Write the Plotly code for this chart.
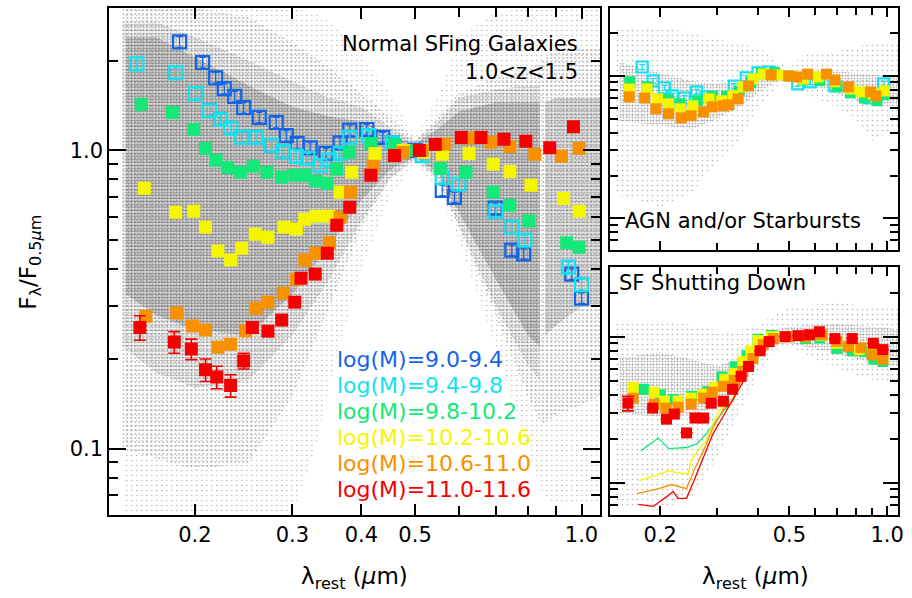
import numpy as np
import plotly.graph_objects as go

# ------------------------------------------------------------------
# Stacked rest-frame SEDs, normalised at 0.5 micron, 1.0 < z < 1.5
# ------------------------------------------------------------------
mass_bins = ["9.0-9.4", "9.4-9.8", "9.8-10.2", "10.2-10.6", "10.6-11.0", "11.0-11.6"]
bin_colors = ["#1464e6", "#14e1f0", "#14e878", "#f5f500", "#f79100", "#f50000"]

# --- Normal star-forming galaxies (main panel) ---
sf_lam_90 = [0.1876, 0.2065, 0.218, 0.226, 0.236, 0.245, 0.2614, 0.2805, 0.2925, 0.306, 0.323, 0.345,
             0.366, 0.381, 0.409, 0.437, 0.455, 0.5, 0.56, 0.589, 0.698, 0.748, 0.786, 0.96, 1.0]
sf_f_90 = [2.31, 1.97, 1.75, 1.61, 1.516, 1.39, 1.29, 1.24, 1.12, 1.055, 1.02, 0.977,
           1.06, 1.17, 1.175, 1.105, 1.06, 1.0, 0.735, 0.696, 0.64, 0.463, 0.45, 0.385, 0.32]

sf_lam_94 = [0.157, 0.1846, 0.2005, 0.2126, 0.2225, 0.232, 0.243, 0.258, 0.2752, 0.2888, 0.305, 0.32,
             0.3367, 0.35, 0.366, 0.381, 0.412, 0.455, 0.515, 0.56, 0.60, 0.70, 0.748, 0.79, 0.947, 1.0]
sf_f_94 = [1.95, 1.82, 1.55, 1.36, 1.27, 1.185, 1.105, 1.105, 1.04, 0.99, 0.955, 0.94,
           0.89, 0.93, 0.977, 1.105, 1.12, 1.06, 0.96, 0.81, 0.77, 0.625, 0.553, 0.50, 0.406, 0.355]

sf_lam_98 = [0.16, 0.182, 0.199, 0.209, 0.2185, 0.229, 0.2415, 0.255, 0.270, 0.287, 0.303, 0.316, 0.331,
             0.347, 0.361, 0.38, 0.416, 0.459, 0.5, 0.555, 0.618, 0.692, 0.742, 0.803, 0.94, 0.99]
sf_f_98 = [1.425, 1.34, 1.175, 1.015, 0.926, 0.877, 0.844, 0.884, 0.844, 0.812, 0.825, 0.825, 0.788,
           0.776, 0.864, 0.985, 1.055, 1.047, 1.0, 0.87, 0.845, 0.724, 0.655, 0.58, 0.49, 0.474]

sf_lam_102 = [0.162, 0.1846, 0.199, 0.209, 0.22, 0.232, 0.243, 0.257, 0.271, 0.29, 0.305, 0.316, 0.332,
              0.35, 0.366, 0.384, 0.423, 0.476, 0.518, 0.56, 0.626, 0.692, 0.742, 0.81, 0.928, 0.99]
sf_f_102 = [0.746, 0.62, 0.625, 0.553, 0.46, 0.429, 0.47, 0.524, 0.512, 0.553, 0.545, 0.588, 0.602,
            0.602, 0.724, 0.845, 0.977, 1.0, 0.985, 0.97, 0.977, 0.898, 0.85, 0.764, 0.69, 0.625]

sf_lam_106 = [0.163, 0.1855, 0.198, 0.209, 0.22, 0.232, 0.247, 0.258, 0.271, 0.289, 0.305, 0.316, 0.331,
              0.35, 0.366, 0.382, 0.42, 0.476, 0.515, 0.565, 0.626, 0.686, 0.742, 0.823, 0.92, 0.99]
sf_f_106 = [0.278, 0.285, 0.258, 0.25, 0.219, 0.224, 0.248, 0.296, 0.31, 0.332, 0.37, 0.429, 0.452,
            0.49, 0.597, 0.724, 0.884, 0.985, 1.0, 1.05, 1.1, 1.065, 1.03, 0.97, 0.955, 1.015]

sf_lam_110 = [0.159, 0.1835, 0.197, 0.209, 0.219, 0.232, 0.245, 0.254, 0.271, 0.287, 0.303, 0.311, 0.33,
              0.347, 0.361, 0.381, 0.416, 0.459, 0.509, 0.544, 0.606, 0.658, 0.724, 0.793, 0.876, 0.967]
sf_f_110 = [0.255, 0.228, 0.216, 0.184, 0.174, 0.163, 0.197, 0.255, 0.248, 0.27, 0.31, 0.373, 0.385,
            0.452, 0.561, 0.645, 0.825, 0.962, 1.0, 1.047, 1.105, 1.105, 1.09, 1.072, 1.02, 1.2]
sf_err_110 = [0.024, 0.019, 0.017, 0.016, 0.015, 0.014, 0.012, 0.01, 0.01, 0, 0, 0, 0,
              0, 0, 0, 0, 0, 0, 0, 0, 0, 0, 0, 0, 0]

# --- AGN and/or starbursts (upper right panel) ---
agn_lam_94 = [0.176, 0.19, 0.206, 0.2176, 0.237, 0.259, 0.277, 0.338, 0.368, 0.40, 0.433, 0.53, 0.58, 0.69, 0.88, 0.975]
agn_f_94 = [1.156, 0.923, 0.824, 0.725, 0.70, 0.773, 0.713, 0.85, 0.968, 1.05, 1.066, 0.88, 0.908, 0.85, 0.70, 0.88]

agn_lam_98 = [0.161, 0.182, 0.212, 0.23, 0.26, 0.29, 0.32, 0.35, 0.38, 0.41, 0.45, 0.5, 0.55, 0.62, 0.7, 0.77, 0.85, 0.93, 0.98]
agn_f_98 = [0.91, 0.84, 0.68, 0.64, 0.67, 0.72, 0.72, 0.78, 0.9, 1.04, 1.06, 1.0, 0.94, 0.93, 0.84, 0.76, 0.7, 0.67, 0.74]

agn_lam_102 = [0.1605, 0.182, 0.196, 0.212, 0.23, 0.252, 0.283, 0.309, 0.335, 0.359, 0.386, 0.415, 0.463,
               0.506, 0.55, 0.614, 0.69, 0.77, 0.83, 0.906, 0.98]
agn_f_102 = [0.81, 0.81, 0.69, 0.637, 0.588, 0.617, 0.69, 0.669, 0.725, 0.838, 0.953, 1.03, 1.016,
             1.0, 0.953, 0.984, 0.91, 0.81, 0.773, 0.748, 0.785]

agn_lam_106 = [0.1605, 0.179, 0.194, 0.212, 0.232, 0.249, 0.272, 0.289, 0.313, 0.325, 0.347, 0.374, 0.439,
               0.497, 0.526, 0.569, 0.65, 0.69, 0.76, 0.888, 0.924]
agn_f_106 = [0.713, 0.70, 0.588, 0.542, 0.508, 0.525, 0.56, 0.607, 0.617, 0.627, 0.69, 0.85, 1.016,
             1.0, 0.984, 1.03, 1.03, 0.938, 0.838, 0.773, 0.725]

# --- SF shutting down (lower right panel) ---
qs_lam_98 = [0.178, 0.2, 0.22, 0.25, 0.28, 0.31, 0.34, 0.37, 0.40, 0.44, 0.5, 0.56, 0.62, 0.7, 0.78, 0.85, 0.91, 0.97]
qs_f_98 = [0.436, 0.40, 0.37, 0.39, 0.42, 0.53, 0.62, 0.74, 0.96, 1.02, 1.0, 0.97, 0.98, 0.83, 0.8, 0.79, 0.70, 0.676]

qs_lam_102 = [0.165, 0.1915, 0.206, 0.227, 0.249, 0.272, 0.294, 0.316, 0.338, 0.359, 0.38, 0.40, 0.44,
              0.5, 0.56, 0.63, 0.7, 0.82, 0.9, 0.97]
qs_f_102 = [0.45, 0.416, 0.361, 0.361, 0.379, 0.403, 0.45, 0.51, 0.56, 0.676, 0.80, 0.94, 1.0,
            1.0, 1.0, 1.02, 0.9, 0.815, 0.8, 0.74]

qs_lam_106 = [0.165, 0.1915, 0.208, 0.227, 0.249, 0.272, 0.289, 0.313, 0.338, 0.359, 0.386, 0.415, 0.446,
              0.5, 0.56, 0.63, 0.7, 0.76, 0.83, 0.9, 0.97]
qs_f_106 = [0.379, 0.345, 0.324, 0.329, 0.345, 0.379, 0.416, 0.457, 0.502, 0.578, 0.708, 0.882, 0.97,
            1.0, 1.0, 1.03, 0.93, 0.855, 0.84, 0.75, 0.70]

qs_lam_110 = [0.159, 0.1895, 0.209, 0.221, 0.241, 0.256, 0.272, 0.287, 0.313, 0.334, 0.355, 0.374, 0.406,
              0.433, 0.485, 0.532, 0.576, 0.618, 0.69, 0.78, 0.906, 0.97]
qs_f_110 = [0.35, 0.324, 0.272, 0.295, 0.219, 0.277, 0.277, 0.35, 0.361, 0.436, 0.535, 0.625, 0.80,
            0.925, 1.0, 1.016, 1.03, 1.08, 0.97, 0.97, 0.9, 0.815]
qs_err_110 = [0.04] + [0] * 21

# normal-SF reference curves drawn in the lower right panel
ref_lam_98 = [0.1744, 0.197, 0.2125, 0.241, 0.259, 0.277, 0.297, 0.313, 0.329, 0.386]
ref_f_98 = [0.165, 0.202, 0.171, 0.174, 0.184, 0.216, 0.264, 0.309, 0.35, 0.79]
ref_lam_102 = [0.1722, 0.194, 0.2125, 0.2245, 0.2437, 0.249, 0.261, 0.277, 0.2906, 0.3068, 0.329, 0.386]
ref_f_102 = [0.103, 0.112, 0.121, 0.117, 0.115, 0.141, 0.165, 0.193, 0.252, 0.324, 0.35, 0.79]
ref_lam_106 = [0.1697, 0.198, 0.2167, 0.241, 0.254, 0.2715, 0.2906, 0.313, 0.334, 0.386]
ref_f_106 = [0.0842, 0.091, 0.097, 0.091, 0.121, 0.165, 0.237, 0.319, 0.361, 0.79]
ref_lam_110 = [0.1713, 0.1899, 0.2082, 0.219, 0.227, 0.241, 0.254, 0.2715, 0.2906, 0.313, 0.336, 0.368]
ref_f_110 = [0.0709, 0.0687, 0.0792, 0.0869, 0.078, 0.078, 0.103, 0.148, 0.216, 0.286, 0.379, 0.534]

# --- extent of the individual galaxy photometry (grey points): sparse, medium, halo, dense ---
sf_faint_lam = [0.148, 0.2, 0.3, 0.33, 0.36, 0.4, 0.45, 0.5, 0.55, 0.6, 0.7, 0.8, 0.85, 0.9, 1.0, 1.08]
sf_faint_hi = [3.0, 3.0, 3.0, 2.9, 2.6, 2.1, 1.55, 1.12, 1.5, 2.4, 2.9, 3.0, 3.0, 3.0, 3.0, 3.0]
sf_faint_lo = [0.06, 0.06, 0.06, 0.1, 0.2, 0.4, 0.7, 0.9, 0.75, 0.5, 0.22, 0.1, 0.07, 0.065, 0.065, 0.065]
sf_mid_lam = [0.148, 0.2, 0.25, 0.3, 0.35, 0.4, 0.45, 0.5, 0.55, 0.6, 0.7, 0.8, 0.85, 0.9, 1.0, 1.08]
sf_mid_hi = [3.0, 3.0, 2.8, 2.3, 1.9, 1.55, 1.3, 1.08, 1.3, 1.55, 1.75, 1.85, 2.0, 2.2, 2.2, 2.2]
sf_mid_lo = [0.1, 0.085, 0.09, 0.15, 0.3, 0.55, 0.8, 0.93, 0.8, 0.55, 0.28, 0.15, 0.12, 0.13, 0.14, 0.15]
sf_halo_lam = [0.148, 0.17, 0.2, 0.25, 0.3, 0.35, 0.4, 0.45, 0.5, 0.55, 0.6, 0.7, 0.8, 0.84]
sf_halo_hi = [2.7, 2.7, 2.4, 2.0, 1.7, 1.5, 1.4, 1.2, 1.07, 1.25, 1.5, 1.6, 1.65, 1.65]
sf_halo_lo = [0.22, 0.18, 0.16, 0.17, 0.24, 0.37, 0.58, 0.8, 0.94, 0.8, 0.56, 0.3, 0.19, 0.17]
sf_core_lam = [0.15, 0.17, 0.2, 0.25, 0.3, 0.35, 0.4, 0.45, 0.5, 0.55, 0.6, 0.7, 0.8, 0.84]
sf_core_hi = [2.4, 2.4, 2.05, 1.65, 1.4, 1.3, 1.25, 1.13, 1.05, 1.18, 1.35, 1.45, 1.45, 1.45]
sf_core_lo = [0.33, 0.28, 0.25, 0.24, 0.33, 0.48, 0.68, 0.86, 0.95, 0.84, 0.62, 0.37, 0.24, 0.22]
sf_core_red_lam = [0.86, 0.9, 1.0, 1.08]
sf_core_red_hi = [1.45, 1.5, 1.5, 1.5]
sf_core_red_lo = [0.24, 0.26, 0.3, 0.3]

agn_faint_lam = [0.145, 0.2, 0.25, 0.3, 0.35, 0.4, 0.45, 0.5, 0.55, 0.6, 0.7, 0.8, 0.9, 1.0, 1.1]
agn_faint_hi = [2.2, 2.2, 2.0, 1.8, 1.7, 1.6, 1.3, 1.15, 1.4, 1.5, 1.5, 1.6, 1.7, 1.7, 1.7]
agn_faint_lo = [0.15, 0.12, 0.15, 0.25, 0.35, 0.6, 0.8, 0.9, 0.75, 0.7, 0.6, 0.5, 0.35, 0.4, 0.45]
agn_core_lam = [0.15, 0.2, 0.25, 0.3, 0.35, 0.4, 0.45, 0.5, 0.55, 0.7, 0.9, 1.1]
agn_core_hi = [1.25, 1.05, 0.92, 0.88, 0.93, 1.08, 1.1, 1.04, 1.1, 1.08, 1.02, 0.98]
agn_core_lo = [0.48, 0.45, 0.42, 0.5, 0.6, 0.76, 0.9, 0.95, 0.9, 0.76, 0.62, 0.62]

qs_faint_lam = [0.145, 0.2, 0.25, 0.3, 0.35, 0.4, 0.45, 0.5, 0.7, 0.9, 1.1]
qs_faint_hi = [1.3, 1.3, 1.2, 1.1, 1.1, 1.2, 1.4, 1.6, 1.7, 1.6, 1.6]
qs_faint_lo = [0.07, 0.065, 0.08, 0.15, 0.3, 0.55, 0.8, 0.85, 0.6, 0.5, 0.5]
qs_core_lam = [0.15, 0.2, 0.25, 0.3, 0.35, 0.4, 0.45, 0.5, 0.7, 0.9, 1.1]
qs_core_hi = [0.72, 0.78, 0.7, 0.63, 0.72, 0.93, 1.1, 1.18, 1.22, 1.18, 1.12]
qs_core_lo = [0.3, 0.28, 0.29, 0.33, 0.46, 0.7, 0.88, 0.9, 0.76, 0.66, 0.62]

# ------------------------------------------------------------------
FONT = "DejaVu Sans"
W, H = 912, 598
LAM_RANGE = [np.log10(0.14), np.log10(1.08)]
F_RANGE = [np.log10(0.06), np.log10(3.0)]
DOT = "#6a6a6a"

fig = go.Figure()


def cloud(lam, hi, lo, xa, ya, size, solidity):
    xs = list(lam) + list(lam[::-1])
    ys = list(hi) + list(lo[::-1])
    fig.add_trace(go.Scatter(
        x=xs, y=ys, xaxis=xa, yaxis=ya, mode="lines", fill="toself",
        line=dict(width=0, color="rgba(0,0,0,0)"), fillcolor="rgba(0,0,0,0)",
        fillpattern=dict(shape=".", size=size, solidity=solidity, fgcolor=DOT,
                         bgcolor="rgba(0,0,0,0)"),
        hoverinfo="skip", showlegend=False))


def points(lam, f, color, xa, ya, open_sym=False, err=None, size=13):
    marker = dict(size=size, color=color,
                  symbol="square-open" if open_sym else "square",
                  line=dict(width=2.2 if open_sym else 0, color=color))
    ebar = None
    if err is not None:
        ebar = dict(type="data", array=err, visible=True, color=color, thickness=1.6, width=6)
    elif open_sym:
        ebar = dict(type="percent", value=4, visible=True, color=color, thickness=1.2, width=3)
    fig.add_trace(go.Scatter(x=lam, y=f, xaxis=xa, yaxis=ya, mode="markers",
                             marker=marker, error_y=ebar, showlegend=False, hoverinfo="skip"))


# grey galaxy photometry
cloud(sf_faint_lam, sf_faint_hi, sf_faint_lo, "x", "y", 5, 0.08)
cloud(sf_mid_lam, sf_mid_hi, sf_mid_lo, "x", "y", 4, 0.2)
cloud(sf_halo_lam, sf_halo_hi, sf_halo_lo, "x", "y", 3, 0.4)
cloud(sf_core_lam, sf_core_hi, sf_core_lo, "x", "y", 3, 0.68)
cloud(sf_core_red_lam, sf_core_red_hi, sf_core_red_lo, "x", "y", 3, 0.6)
cloud(agn_faint_lam, agn_faint_hi, agn_faint_lo, "x2", "y2", 5, 0.09)
cloud(agn_core_lam, agn_core_hi, agn_core_lo, "x2", "y2", 3, 0.35)
cloud(qs_faint_lam, qs_faint_hi, qs_faint_lo, "x3", "y3", 5, 0.09)
cloud(qs_core_lam, qs_core_hi, qs_core_lo, "x3", "y3", 3, 0.35)

# main panel stacks
points(sf_lam_90, sf_f_90, bin_colors[0], "x", "y", open_sym=True)
points(sf_lam_94, sf_f_94, bin_colors[1], "x", "y", open_sym=True)
points(sf_lam_98, sf_f_98, bin_colors[2], "x", "y")
points(sf_lam_102, sf_f_102, bin_colors[3], "x", "y")
points(sf_lam_106, sf_f_106, bin_colors[4], "x", "y")
points(sf_lam_110, sf_f_110, bin_colors[5], "x", "y", err=sf_err_110)

# AGN / starburst stacks
points(agn_lam_94, agn_f_94, bin_colors[1], "x2", "y2", open_sym=True, size=11)
points(agn_lam_98, agn_f_98, bin_colors[2], "x2", "y2", size=11)
points(agn_lam_102, agn_f_102, bin_colors[3], "x2", "y2", size=11)
points(agn_lam_106, agn_f_106, bin_colors[4], "x2", "y2", size=11)

# reference curves + SF shutting-down stacks
for lam, f, c in [(ref_lam_98, ref_f_98, bin_colors[2]), (ref_lam_102, ref_f_102, bin_colors[3]),
                  (ref_lam_106, ref_f_106, bin_colors[4]), (ref_lam_110, ref_f_110, bin_colors[5])]:
    fig.add_trace(go.Scatter(x=lam, y=f, xaxis="x3", yaxis="y3", mode="lines",
                             line=dict(color=c, width=1.3), showlegend=False, hoverinfo="skip"))
points(qs_lam_98, qs_f_98, bin_colors[2], "x3", "y3", size=11)
points(qs_lam_102, qs_f_102, bin_colors[3], "x3", "y3", size=11)
points(qs_lam_106, qs_f_106, bin_colors[4], "x3", "y3", size=11)
points(qs_lam_110, qs_f_110, bin_colors[5], "x3", "y3", err=qs_err_110, size=11)


def px(v):
    return v / W


def py(v):
    return 1 - v / H


def axis(domain, rng, tickvals, minor_vals, major_len, minor_len, anchor, labels=True):
    return dict(
        type="log", domain=domain, range=rng, anchor=anchor,
        showline=True, linecolor="black", linewidth=2, mirror="allticks",
        ticks="inside", ticklen=major_len, tickwidth=1.5, tickcolor="black",
        tickmode="array", tickvals=tickvals, ticktext=[f"{v:.1f}" for v in tickvals],
        showticklabels=labels, tickfont=dict(family=FONT, size=21, color="black"),
        minor=dict(ticks="inside", ticklen=minor_len, tickwidth=1.5, tickcolor="black",
                   tickmode="array", tickvals=minor_vals),
        showgrid=False, zeroline=False,
    )


y_minor = [0.07, 0.08, 0.09, 0.2, 0.3, 0.4, 0.5, 0.6, 0.7, 0.8, 0.9, 2, 3]
right_minor_x = [0.3, 0.4, 0.6, 0.7, 0.8, 0.9]
main_x = axis([px(110), px(604)], LAM_RANGE, [0.2, 0.3, 0.4, 0.5, 1.0], [0.6, 0.7, 0.8, 0.9], 11, 9, "y")
main_y = axis([1 - 515 / H, 1 - 8 / H], F_RANGE, [0.1, 1.0], y_minor, 17, 9, "x")
x2 = axis([px(614), px(904)], LAM_RANGE, [0.2, 0.5, 1.0], right_minor_x, 9, 7, "y2", labels=False)
y2 = axis([1 - 250 / H, 1 - 8 / H], F_RANGE, [0.1, 1.0], y_minor, 15, 8, "x2", labels=False)
x3 = axis([px(614), px(904)], LAM_RANGE, [0.2, 0.5, 1.0], right_minor_x, 9, 7, "y3")
y3 = axis([1 - 515 / H, 1 - 267 / H], F_RANGE, [0.1, 1.0], y_minor, 15, 8, "x3", labels=False)

annotations = [
    dict(text="Normal SFing Galaxies", x=px(584), y=py(44), xanchor="right", font_size=21),
    dict(text="1.0&lt;z&lt;1.5", x=px(584), y=py(72), xanchor="right", font_size=21),
    dict(text="AGN and/or Starbursts", x=px(627), y=py(221), xanchor="left", font_size=21),
    dict(text="SF Shutting Down", x=px(621), y=py(283), xanchor="left", font_size=21),
    dict(text="λ<sub>rest</sub> (<i>μ</i>m)", x=px(357), y=py(578), xanchor="center", font_size=23),
    dict(text="λ<sub>rest</sub> (<i>μ</i>m)", x=px(760), y=py(578), xanchor="center", font_size=23),
    dict(text="F<sub>λ</sub>/F<sub>0.5<i>μ</i>m</sub>", x=px(30), y=py(262), xanchor="center",
         textangle=-90, font_size=23),
]
for i, (name, c) in enumerate(zip(mass_bins, bin_colors)):
    annotations.append(dict(text=f"log(M)={name}", x=px(337), y=py(359 + 26 * i),
                            xanchor="left", font_size=22, font_color=c))

for a in annotations:
    a.update(xref="paper", yref="paper", yanchor="middle", showarrow=False)
    a.setdefault("font_color", "black")
    a["font"] = dict(family=FONT, size=a.pop("font_size"), color=a.pop("font_color"))

fig.update_layout(
    width=W, height=H, margin=dict(l=0, r=0, t=0, b=0),
    paper_bgcolor="white", plot_bgcolor="white",
    xaxis=main_x, yaxis=main_y, xaxis2=x2, yaxis2=y2, xaxis3=x3, yaxis3=y3,
    annotations=annotations, showlegend=False,
    font=dict(family=FONT, color="black"),
)

fig.write_html("out.html")
